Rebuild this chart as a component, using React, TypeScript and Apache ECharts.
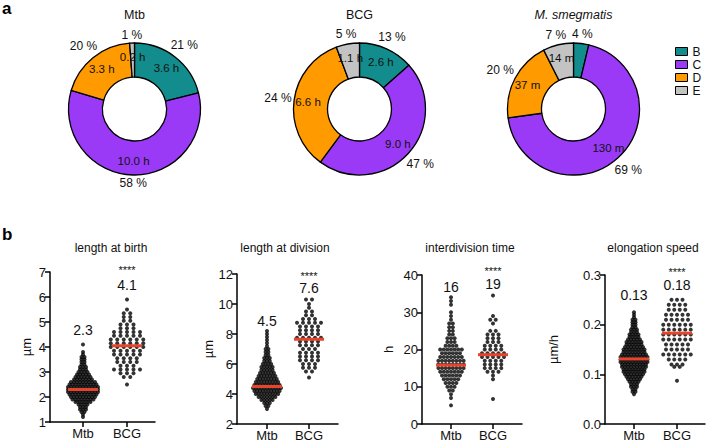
import React, { useEffect, useRef } from "react";
import * as echarts from "echarts";

// ---------- Panel a: donut data ----------
const segNames = ["B", "C", "D", "E"];
const segColors = ["#128C8C", "#9A3AF6", "#FF9A00", "#C3C3C3"];
const donutTitles = ["Mtb", "BCG", "M. smegmatis"];
const mtbHours = [3.6, 10.0, 3.3, 0.2];
const mtbHourLabels = ["3.6 h", "10.0 h", "3.3 h", "0.2 h"];
const mtbPercentLabels = ["21 %", "58 %", "20 %", "1 %"];
const bcgHours = [2.6, 9.0, 6.6, 1.1];
const bcgHourLabels = ["2.6 h", "9.0 h", "6.6 h", "1.1 h"];
const bcgPercentLabels = ["13 %", "47 %", "24 %", "5 %"];
const smegMinutes = [7, 130, 37, 14];
const smegMinuteLabels = ["7 m", "130 m", "37 m", "14 m"];
const smegPercentLabels = ["4 %", "69 %", "20 %", "7 %"];

// ---------- Panel b: binned dot-plot data [value, count] ----------
const categories = ["Mtb", "BCG"];
const birthMtb: [number, number][] = [[1.2,1],[1.3,1],[1.4,2],[1.5,3],[1.6,3],[1.7,4],[1.8,6],[1.9,8],[2.0,9],[2.1,10],[2.2,11],[2.3,11],[2.4,11],[2.5,10],[2.6,9],[2.7,7],[2.8,6],[2.9,5],[3.0,4],[3.1,3],[3.2,3],[3.3,2],[3.4,2],[3.5,2],[3.6,2],[3.7,1],[3.8,1],[4.1,1]];
const birthBcg: [number, number][] = [[2.5,1],[2.8,2],[2.95,3],[3.1,5],[3.25,3],[3.4,4],[3.55,4],[3.7,5],[3.85,5],[4.0,6],[4.15,6],[4.3,6],[4.45,5],[4.6,5],[4.75,3],[4.9,3],[5.05,2],[5.2,2],[5.35,2],[5.5,1],[5.9,1]];
const divMtb: [number, number][] = [[3.0,1],[3.2,2],[3.4,3],[3.6,5],[3.8,7],[4.0,9],[4.2,10],[4.4,11],[4.6,10],[4.8,9],[5.0,8],[5.2,7],[5.4,6],[5.6,5],[5.8,5],[6.0,4],[6.2,3],[6.4,3],[6.6,2],[6.8,2],[7.0,2],[7.2,1],[7.4,1],[7.6,1],[7.8,1],[8.0,1],[8.2,1]];
const divBcg: [number, number][] = [[5.1,1],[5.5,2],[5.75,3],[6.0,3],[6.25,4],[6.5,4],[6.75,4],[7.0,3],[7.25,4],[7.5,4],[7.75,5],[8.0,4],[8.25,4],[8.5,4],[8.75,5],[9.0,3],[9.25,2],[9.5,2],[9.75,1],[10.0,1],[10.3,2]];
const timeMtb: [number, number][] = [[5,1],[7,1],[8,1],[9,2],[10,3],[11,4],[12,5],[13,6],[14,7],[15,8],[16,8],[17,8],[18,7],[19,6],[20,7],[21,4],[22,3],[23,3],[24,2],[25,2],[26,2],[27,2],[28,1],[29,1],[30,1],[32,1],[33,1],[34,1]];
const timeBcg: [number, number][] = [[6.7,1],[12,1],[13,1],[14,3],[15,4],[16,4],[17,4],[18,5],[19,5],[20,4],[21,4],[22,3],[23,3],[24,3],[25,2],[27,1],[28,2],[29,1],[34.5,1]];
const speedMtb: [number, number][] = [[0.060,1],[0.065,2],[0.070,2],[0.075,3],[0.080,3],[0.085,4],[0.090,5],[0.095,6],[0.100,7],[0.105,8],[0.110,8],[0.115,9],[0.120,9],[0.125,10],[0.130,10],[0.135,10],[0.140,9],[0.145,8],[0.150,8],[0.155,7],[0.160,6],[0.165,6],[0.170,5],[0.175,4],[0.180,4],[0.185,3],[0.190,3],[0.195,2],[0.200,2],[0.205,2],[0.210,2],[0.215,1],[0.220,1],[0.225,1]];
const speedBcg: [number, number][] = [[0.087,1],[0.115,2],[0.12,3],[0.13,4],[0.14,6],[0.15,5],[0.16,5],[0.17,6],[0.18,6],[0.19,6],[0.20,6],[0.21,5],[0.22,5],[0.23,4],[0.24,4],[0.25,3]];

const panelTitles = ["length at birth", "length at division", "interdivision time", "elongation speed"];
const panelUnits = ["µm", "µm", "h", "µm/h"];
const axisMins = [1, 2, 0, 0];
const axisMaxs = [7, 12, 40, 0.3];
const axisIntervals = [1, 2, 10, 0.1];
const meansMtb = [2.3, 4.5, 15.8, 0.131];
const meansBcg = [4.05, 7.65, 18.6, 0.183];
const meanTexts = [["2.3", "4.1"], ["4.5", "7.6"], ["16", "19"], ["0.13", "0.18"]];
const meanTextY = [[4.68, 6.48], [8.87, 11.07], [36.8, 37.6], [0.26, 0.28]];
const starTextY = [7.1, 11.9, 41.2, 0.306];
const significance = "****";

// ---------- layout (pixels) ----------
const donutCx = [134.5, 359.5, 573.5];
const donutCy = 109;
const panelLayout = [
  { left: 50, top: 272, width: 105, height: 150, mtbX: 33, bcgX: 77, nameGap: 17, titleX: 111 },
  { left: 237, top: 274, width: 101, height: 150, mtbX: 30, bcgX: 72, nameGap: 22, titleX: 285 },
  { left: 422, top: 275, width: 100, height: 149, mtbX: 29, bcgX: 71, nameGap: 27, titleX: 470 },
  { left: 605, top: 275, width: 100, height: 149, mtbX: 29, bcgX: 72, nameGap: 45, titleX: 653 },
];
const FONT = 'Arial, "Liberation Sans", Helvetica, sans-serif';

function swarm(bins: [number, number][], xc: number, spacing: number) {
  const pts: number[][] = [];
  bins.forEach(([v, n]) => {
    for (let i = 0; i < n; i++) pts.push([xc + (i - (n - 1) / 2) * spacing, v]);
  });
  return pts;
}

export default function App() {
  const ref = useRef<HTMLDivElement>(null);
  useEffect(() => {
    if (!ref.current) return;
    const chart = echarts.init(ref.current, null, { renderer: "svg" });
    const donutData = [
      [mtbHours, mtbHourLabels, mtbPercentLabels],
      [bcgHours, bcgHourLabels, bcgPercentLabels],
      [smegMinutes, smegMinuteLabels, smegPercentLabels],
    ] as [number[], string[], string[]][];

    const series: any[] = [];
    donutData.forEach(([vals, inner], k) => {
      series.push({
        type: "pie",
        center: [donutCx[k], donutCy],
        radius: [32, 66],
        startAngle: 90,
        clockwise: true,
        silent: true,
        avoidLabelOverlap: false,
        itemStyle: { borderColor: "#000", borderWidth: 1.3 },
        label: {
          show: true,
          position: "inside",
          formatter: (p: any) => inner[p.dataIndex],
          color: "#111",
          fontSize: 11.5,
          fontFamily: FONT,
          textBorderWidth: 0,
        },
        labelLine: { show: false },
        emphasis: { disabled: true },
        data: segNames.map((n, i) => ({ name: n, value: vals[i], itemStyle: { color: segColors[i] } })),
      });
    });
    donutData.forEach(([vals, , outer], k) => {
      const cx = donutCx[k];
      series.push({
        type: "pie",
        center: [cx, donutCy],
        radius: [66, 88],
        startAngle: 90,
        clockwise: true,
        silent: true,
        avoidLabelOverlap: false,
        legendHoverLink: false,
        itemStyle: { color: "rgba(0,0,0,0)", borderWidth: 0 },
        label: {
          show: true,
          position: "inside",
          formatter: (p: any) => outer[p.dataIndex],
          color: "#111",
          fontSize: 12,
          fontFamily: FONT,
          textBorderWidth: 0,
        },
        labelLayout: (p: any) => {
          const r = p.labelRect;
          const lx = r.x + r.width / 2;
          const ly = r.y + r.height / 2;
          const dx = lx - cx;
          const dy = ly - donutCy;
          const len = Math.sqrt(dx * dx + dy * dy) || 1;
          const ux = dx / len;
          const uy = dy / len;
          const dist = 68 + Math.abs(ux) * r.width / 2 + Math.abs(uy) * r.height / 2;
          return { x: cx + ux * dist, y: donutCy + uy * dist, align: "center", verticalAlign: "middle" };
        },
        labelLine: { show: false },
        emphasis: { disabled: true },
        data: segNames.map((n, i) => ({ name: n, value: vals[i] })),
      });
    });

    const grids: any[] = [];
    const xAxes: any[] = [];
    const yAxes: any[] = [];
    const dataSets = [
      [birthMtb, birthBcg],
      [divMtb, divBcg],
      [timeMtb, timeBcg],
      [speedMtb, speedBcg],
    ];
    const mtbSpacing = [3, 2.8, 3.6, 3];
    const bcgSpacing = [6.5, 6, 5.5, 5.5];
    const graphics: any[] = [
      { type: "text", x: 2, y: 0, style: { text: "a", font: `bold 17px ${FONT}`, fill: "#000" } },
      { type: "text", x: 2, y: 226, style: { text: "b", font: `bold 17px ${FONT}`, fill: "#000" } },
    ];
    donutTitles.forEach((t, k) => {
      graphics.push({
        type: "text",
        x: donutCx[k],
        y: 15,
        style: {
          text: t,
          font: `${k === 2 ? "italic " : ""}12.5px ${FONT}`,
          fill: "#111",
          textAlign: "center",
          textVerticalAlign: "middle",
        },
      });
    });

    panelLayout.forEach((L, i) => {
      grids.push({ left: L.left, top: L.top, width: L.width, height: L.height });
      const axisStyle = { color: "#000", width: 1.5 };
      xAxes.push({
        gridIndex: i,
        type: "value",
        min: 0,
        max: L.width,
        axisLine: { show: true, onZero: false, lineStyle: axisStyle },
        axisTick: { show: true, customValues: [L.mtbX, L.bcgX], length: 5, lineStyle: axisStyle },
        axisLabel: {
          show: true,
          customValues: [L.mtbX, L.bcgX],
          formatter: (v: number) => (Math.abs(v - L.mtbX) < 1 ? categories[0] : categories[1]),
          margin: 5,
          fontSize: 13,
          color: "#111",
          fontFamily: FONT,
        },
        splitLine: { show: false },
      });
      yAxes.push({
        gridIndex: i,
        type: "value",
        min: axisMins[i],
        max: axisMaxs[i],
        interval: axisIntervals[i],
        axisLine: { show: true, onZero: false, lineStyle: axisStyle },
        axisTick: { show: true, length: 5, lineStyle: axisStyle },
        axisLabel: {
          fontSize: 13,
          color: "#111",
          margin: 4,
          fontFamily: FONT,
          formatter: (v: number) => (i === 3 ? v.toFixed(1) : String(Math.round(v))),
        },
        splitLine: { show: false },
        name: panelUnits[i],
        nameLocation: "middle",
        nameGap: L.nameGap,
        nameTextStyle: { fontSize: 13, color: "#111", fontFamily: FONT },
      });
      const [mtb, bcg] = dataSets[i];
      const common = { xAxisIndex: i, yAxisIndex: i, silent: true, clip: false };
      series.push({
        ...common,
        type: "scatter",
        symbol: "circle",
        symbolSize: 4,
        itemStyle: { color: "#000" },
        data: swarm(mtb, L.mtbX, mtbSpacing[i]),
      });
      series.push({
        ...common,
        type: "scatter",
        symbol: "circle",
        symbolSize: 4,
        itemStyle: { color: "#000" },
        data: swarm(bcg, L.bcgX, bcgSpacing[i]),
      });
      [[L.mtbX, meansMtb[i]], [L.bcgX, meansBcg[i]]].forEach(([xc, m]) => {
        series.push({
          ...common,
          type: "line",
          symbol: "none",
          z: 5,
          lineStyle: { color: "#E8432B", width: 3 },
          data: [[xc - 15, m], [xc + 15, m]],
        });
      });
      const annTexts = [meanTexts[i][0], meanTexts[i][1], significance];
      const annSizes = [14, 14, 11];
      series.push({
        ...common,
        type: "custom",
        z: 6,
        renderItem: (params: any, api: any) => {
          const pt = api.coord([api.value(0), api.value(1)]);
          const j = params.dataIndex;
          return {
            type: "text",
            x: pt[0],
            y: pt[1],
            style: {
              text: annTexts[j],
              fill: "#111",
              fontSize: annSizes[j],
              fontFamily: FONT,
              align: "center",
              verticalAlign: "middle",
            },
          };
        },
        data: [
          [L.mtbX, meanTextY[i][0]],
          [L.bcgX, meanTextY[i][1]],
          [L.bcgX, starTextY[i]],
        ],
      });
      graphics.push({
        type: "text",
        x: L.titleX,
        y: 248,
        style: {
          text: panelTitles[i],
          font: `12px ${FONT}`,
          fill: "#111",
          textAlign: "center",
          textVerticalAlign: "middle",
        },
      });
    });

    chart.setOption({
      animation: false,
      backgroundColor: "#fff",
      legend: {
        orient: "vertical",
        left: 670,
        top: 40,
        itemWidth: 12,
        itemHeight: 8,
        itemGap: 0,
        icon: "rect",
        data: segNames,
        itemStyle: { borderColor: "#000", borderWidth: 1 },
        textStyle: { fontSize: 12, lineHeight: 13, color: "#111", fontFamily: FONT },
        selectedMode: false,
      },
      grid: grids,
      xAxis: xAxes,
      yAxis: yAxes,
      graphic: graphics,
      series,
    });
    return () => chart.dispose();
  }, []);
  return (
    <div
      ref={ref}
      style={{ position: "fixed", left: 0, top: 0, width: 706, height: 443, background: "#fff" }}
    />
  );
}
